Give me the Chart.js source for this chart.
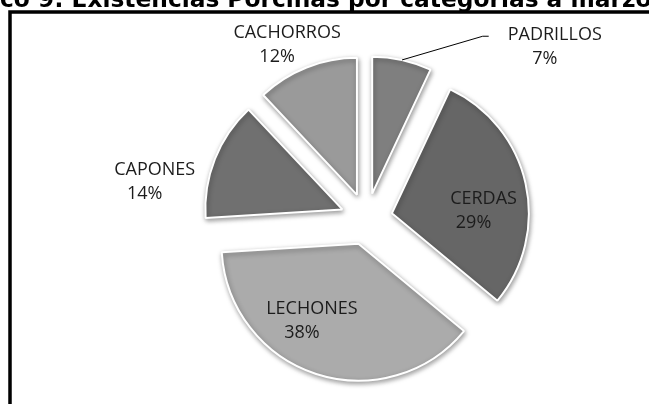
<!DOCTYPE html>
<html>
<head>
<meta charset="utf-8">
<script src="https://cdn.jsdelivr.net/npm/chart.js@4/dist/chart.umd.min.js"></script>
<style>
  html, body { margin: 0; padding: 0; background: #ffffff; overflow: hidden; }
  #wrap { position: relative; width: 649px; height: 404px; }
  canvas { position: absolute; left: 0; top: 0; }
</style>
</head>
<body>
<div id="wrap"><canvas id="chart" width="649" height="404"></canvas></div>
<script>
// Stock of pigs by category (share of the total, %)
const categories = ['PADRILLOS', 'CERDAS', 'LECHONES', 'CAPONES', 'CACHORROS'];
const shares = [7, 29, 38, 14, 12];
const titleText = 'Gráfico 9: Existencias Porcinas por categorías a marzo';

// Styling
const sliceColors = ['#7f7f7f', '#666666', '#ababab', '#707070', '#9a9a9a'];
const explodeDistance = 26;                           // how far every slice is pulled out, px
const labelAngle = [48.7, 80.3, 216.1, 282.2, 336.9]; // direction from the slice tip, deg clockwise from 12 o'clock
const labelDist = [243, 93, 79, 192, 178];            // distance from the slice tip, px
const hasLeader = [true, false, false, false, false];

const total = shares.reduce((a, b) => a + b, 0);
const percentText = shares.map(v => Math.round(v / total * 100) + '%');

// Pull each slice outwards along its bisector (exploded pie)
const explodePlugin = {
  id: 'explodeSlices',
  afterDatasetUpdate(chart, args) {
    args.meta.data.forEach((arc) => {
      const mid = (arc.startAngle + arc.endAngle) / 2;
      arc.x += Math.cos(mid) * explodeDistance;
      arc.y += Math.sin(mid) * explodeDistance;
    });
  }
};

// Soft drop shadow under the slices, then the category labels
const shadowLabelPlugin = {
  id: 'shadowLabels',
  beforeDatasetsDraw(chart) {
    const ctx = chart.ctx;
    ctx.save();
    ctx.shadowColor = 'rgba(0,0,0,0.38)';
    ctx.shadowBlur = 5;
    ctx.shadowOffsetX = 1;
    ctx.shadowOffsetY = 2;
  },
  afterDatasetsDraw(chart) {
    const ctx = chart.ctx;
    ctx.restore();
    const arcs = chart.getDatasetMeta(0).data;
    ctx.save();
    ctx.font = '18px "Open Sans"';
    ctx.fillStyle = '#1c1c1c';
    ctx.textAlign = 'center';
    ctx.textBaseline = 'alphabetic';
    arcs.forEach((arc, i) => {
      const a = labelAngle[i] * Math.PI / 180;
      const lx = arc.x + Math.sin(a) * labelDist[i];
      const ly = arc.y - Math.cos(a) * labelDist[i];
      ctx.fillText(categories[i], lx, ly + 6.5);
      ctx.fillText(percentText[i], lx - 10, ly + 30.5);
      if (hasLeader[i]) {
        const mid = (arc.startAngle + arc.endAngle) / 2;
        const sx = arc.x + Math.cos(mid) * arc.outerRadius;
        const sy = arc.y + Math.sin(mid) * arc.outerRadius;
        const left = lx - ctx.measureText(categories[i]).width / 2;
        ctx.beginPath();
        ctx.strokeStyle = '#000000';
        ctx.lineWidth = 1;
        ctx.moveTo(sx, sy);
        ctx.lineTo(left - 25, ly + 3);
        ctx.lineTo(left - 19, ly + 3);
        ctx.stroke();
      }
    });
    ctx.restore();
  }
};

// Heading and the black frame around the chart
const framePlugin = {
  id: 'frameTitle',
  afterDraw(chart) {
    const ctx = chart.ctx;
    ctx.save();
    ctx.strokeStyle = '#000000';
    ctx.lineWidth = 3.5;
    ctx.lineJoin = 'miter';
    ctx.beginPath();
    ctx.moveTo(10, 420);
    ctx.lineTo(10, 12);
    ctx.lineTo(660, 12);
    ctx.stroke();

    const cut = titleText.indexOf('co 9');
    const shown = titleText.slice(cut);
    ctx.font = 'bold 100px "DejaVu Sans"';
    const size = 100 * 652 / ctx.measureText(shown).width;
    ctx.font = 'bold ' + size.toFixed(2) + 'px "DejaVu Sans"';
    const pre = ctx.measureText(titleText.slice(0, cut)).width;
    ctx.fillStyle = '#000000';
    ctx.textAlign = 'left';
    ctx.textBaseline = 'alphabetic';
    ctx.fillText(titleText, -pre, 7);
    ctx.restore();
  }
};

new Chart(document.getElementById('chart'), {
  type: 'pie',
  data: {
    labels: categories,
    datasets: [{
      data: shares,
      backgroundColor: sliceColors,
      borderColor: '#ffffff',
      borderWidth: 2,
      radius: 137
    }]
  },
  options: {
    responsive: false,
    animation: false,
    devicePixelRatio: 1,
    events: [],
    layout: { padding: { left: 100, right: 16, top: 50, bottom: 16 } },
    plugins: {
      legend: { display: false },
      tooltip: { enabled: false },
      title: { display: false }
    }
  },
  plugins: [explodePlugin, shadowLabelPlugin, framePlugin]
});
</script>
</body>
</html>
